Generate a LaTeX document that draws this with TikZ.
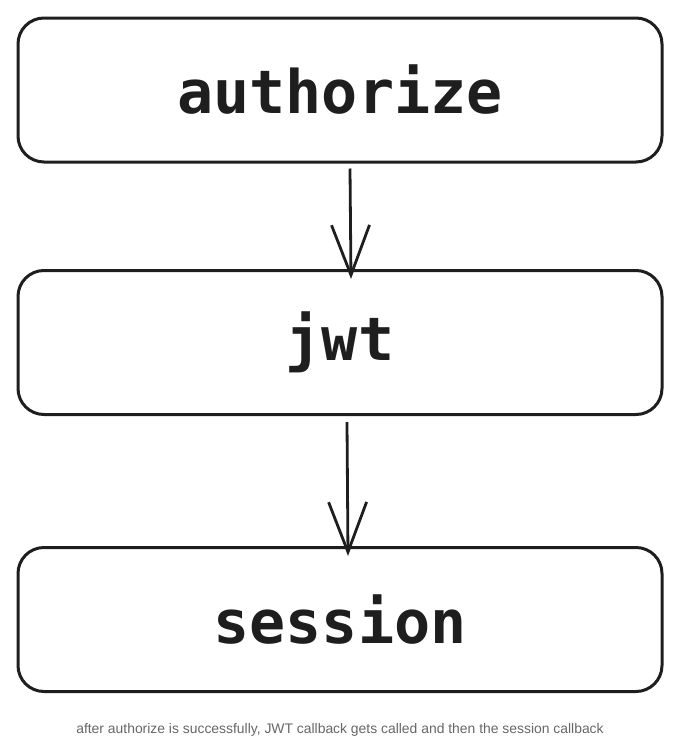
\documentclass[tikz,border=0pt]{standalone}
\usepackage{fontspec}
\setmainfont{Liberation Sans}
\newfontfamily\boxfont{DejaVu Sans Mono}
\usetikzlibrary{arrows.meta}
\definecolor{ink}{HTML}{1E1E1E}
\definecolor{captiongray}{HTML}{666666}
\tikzset{
  stage/.style={draw=ink, line width=3pt, rounded corners=26pt, minimum width=644pt, minimum height=144pt, inner sep=0pt, text=ink, font=\boxfont\bfseries\fontsize{60}{60}\selectfont},
  flow/.style={draw=ink, line width=2.8pt, -{Straight Barb[length=50pt,width=38pt,line width=2.8pt]}},
  caption/.style={text=captiongray, font=\fontsize{13.9}{16}\selectfont, inner sep=0pt}
}
\begin{document}
\begin{tikzpicture}[x=1pt,y=-1pt]
\useasboundingbox (0,0) rectangle (680,739);
\node[stage] (auth) at (340,90) {authorize};
\node[stage] (jwt) at (340,342.5) {jwt};
\node[stage] (sess) at (340,619.5) {session};
\coordinate (a1) at ([xshift=10pt,yshift=-5pt]auth.south);
\coordinate (a2) at ([xshift=11pt,yshift=-10pt]jwt.north);
\coordinate (b1) at ([xshift=7pt,yshift=-6pt]jwt.south);
\coordinate (b2) at ([xshift=8pt,yshift=-10pt]sess.north);
\draw[flow] (a1) -- (a2);
\draw[flow] (b1) -- (b2);
\node[caption] (cap) at (340,730) {after authorize is successfully, JWT callback gets called and then the session callback};
\end{tikzpicture}
\end{document}
